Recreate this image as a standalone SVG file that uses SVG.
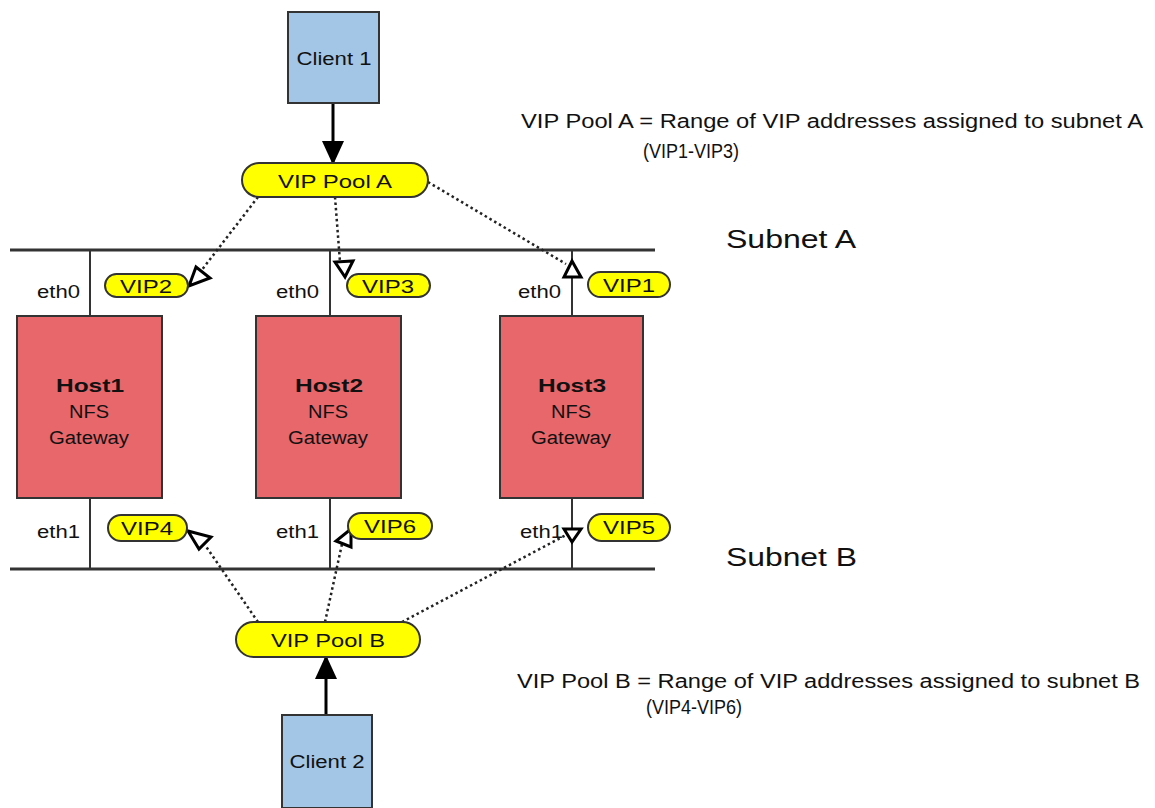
<svg xmlns="http://www.w3.org/2000/svg" width="1155" height="808" viewBox="0 0 1155 808">
<defs>
<marker id="solidArrow" markerWidth="24" markerHeight="22" refX="22" refY="11" orient="auto" markerUnits="userSpaceOnUse" viewBox="0 0 24 22">
<path d="M0,0 L24,11 L0,22 Z" fill="#000"/>
</marker>
<style>
text{font-family:"Liberation Sans",Arial,sans-serif;fill:#111;}
.client{fill:#a3c6e6;stroke:#333;stroke-width:2;}
.host{fill:#e8676b;stroke:#333;stroke-width:2;}
.pill{fill:#ffff00;stroke:#333;stroke-width:2;}
.bus{stroke:#333;stroke-width:3;fill:none;}
.drop{stroke:#333;stroke-width:2;fill:none;}
.dot{stroke:#222;stroke-width:2.5;stroke-dasharray:2.5 3;fill:none;}
.hollow{fill:#fff;stroke:#000;stroke-width:3;stroke-linejoin:miter;}
.solid{stroke:#000;stroke-width:3;fill:none;}
.lbl{font-size:18px;text-anchor:middle;}
.vip{font-size:19px;text-anchor:middle;}
.eth{font-size:18px;text-anchor:end;}
.subnet{font-size:26px;}
.desc{font-size:20px;}
</style>
</defs>
<rect width="1155" height="808" fill="#fff"/>

<g id="buses">
<line class="bus" x1="10" y1="250" x2="655" y2="250"/>
<line class="bus" x1="10" y1="569" x2="655" y2="569"/>
<line class="drop" x1="90" y1="250" x2="90" y2="316"/>
<line class="drop" x1="330" y1="250" x2="330" y2="316"/>
<line class="drop" x1="572" y1="250" x2="572" y2="316"/>
<line class="drop" x1="90" y1="498" x2="90" y2="569"/>
<line class="drop" x1="330" y1="498" x2="330" y2="569"/>
<line class="drop" x1="572" y1="498" x2="572" y2="569"/>
</g>

<g id="connectors">
<line class="solid" x1="333" y1="103" x2="333" y2="163" marker-end="url(#solidArrow)"/>
<line class="solid" x1="326" y1="715" x2="326" y2="657" marker-end="url(#solidArrow)"/>
<line class="dot" x1="258" y1="197" x2="201" y2="271"/>
<line class="dot" x1="335" y1="197" x2="340" y2="262"/>
<line class="dot" x1="428" y1="182" x2="566" y2="264"/>
<line class="dot" x1="258" y1="622" x2="205" y2="545"/>
<line class="dot" x1="325" y1="622" x2="342" y2="544"/>
<line class="dot" x1="402" y1="622" x2="566" y2="535"/>
<polygon class="hollow" points="189,286 196,267 210,278"/>
<polygon class="hollow" points="345,277 335,262 353,261"/>
<polygon class="hollow" points="572,261 564,277 581,277"/>
<polygon class="hollow" points="188,531 211,537 199,549"/>
<polygon class="hollow" points="351,529 336,541 351,547"/>
<polygon class="hollow" points="572,542 564,529 581,529"/>
</g>

<g id="client1">
<rect class="client" x="288" y="12" width="91" height="91"/>
<text class="lbl" x="334" y="65" textLength="75" lengthAdjust="spacingAndGlyphs">Client 1</text>
</g>

<g id="client2">
<rect class="client" x="282" y="715" width="90" height="93"/>
<text class="lbl" x="327" y="768" textLength="75" lengthAdjust="spacingAndGlyphs">Client 2</text>
</g>

<g id="poolA">
<rect class="pill" x="242" y="163" width="186" height="34" rx="17"/>
<text class="vip" x="335" y="188" textLength="114" lengthAdjust="spacingAndGlyphs">VIP Pool A</text>
</g>

<g id="poolB">
<rect class="pill" x="236" y="622" width="184" height="35" rx="17.5"/>
<text class="vip" x="328" y="647" textLength="114" lengthAdjust="spacingAndGlyphs">VIP Pool B</text>
</g>

<g id="host1">
<rect class="host" x="17" y="316" width="145" height="182"/>
<text class="lbl" x="90" y="392" font-weight="bold" font-size="20" textLength="68" lengthAdjust="spacingAndGlyphs">Host1</text>
<text class="lbl" x="89" y="418" textLength="40" lengthAdjust="spacingAndGlyphs">NFS</text>
<text class="lbl" x="89" y="444" textLength="80" lengthAdjust="spacingAndGlyphs">Gateway</text>
</g>
<g id="host2">
<rect class="host" x="256" y="316" width="145" height="182"/>
<text class="lbl" x="329" y="392" font-weight="bold" font-size="20" textLength="68" lengthAdjust="spacingAndGlyphs">Host2</text>
<text class="lbl" x="328" y="418" textLength="40" lengthAdjust="spacingAndGlyphs">NFS</text>
<text class="lbl" x="328" y="444" textLength="80" lengthAdjust="spacingAndGlyphs">Gateway</text>
</g>
<g id="host3">
<rect class="host" x="500" y="316" width="143" height="182"/>
<text class="lbl" x="572" y="392" font-weight="bold" font-size="20" textLength="68" lengthAdjust="spacingAndGlyphs">Host3</text>
<text class="lbl" x="571" y="418" textLength="40" lengthAdjust="spacingAndGlyphs">NFS</text>
<text class="lbl" x="571" y="444" textLength="80" lengthAdjust="spacingAndGlyphs">Gateway</text>
</g>

<g id="eth-labels">
<text class="eth" x="80" y="298" textLength="43" lengthAdjust="spacingAndGlyphs">eth0</text>
<text class="eth" x="319" y="298" textLength="43" lengthAdjust="spacingAndGlyphs">eth0</text>
<text class="eth" x="561" y="298" textLength="43" lengthAdjust="spacingAndGlyphs">eth0</text>
<text class="eth" x="80" y="538" textLength="43" lengthAdjust="spacingAndGlyphs">eth1</text>
<text class="eth" x="319" y="538" textLength="43" lengthAdjust="spacingAndGlyphs">eth1</text>
<text class="eth" x="563" y="538" textLength="43" lengthAdjust="spacingAndGlyphs">eth1</text>
</g>

<g id="vip2"><rect class="pill" x="105" y="274" width="83" height="23" rx="11.5"/><text class="vip" x="146" y="293" textLength="52" lengthAdjust="spacingAndGlyphs">VIP2</text></g>
<g id="vip3"><rect class="pill" x="347" y="274" width="83" height="23" rx="11.5"/><text class="vip" x="388" y="293" textLength="52" lengthAdjust="spacingAndGlyphs">VIP3</text></g>
<g id="vip1"><rect class="pill" x="588" y="272" width="82" height="25" rx="12.5"/><text class="vip" x="629" y="292" textLength="52" lengthAdjust="spacingAndGlyphs">VIP1</text></g>
<g id="vip4"><rect class="pill" x="108" y="515" width="79" height="26" rx="13"/><text class="vip" x="147" y="535" textLength="52" lengthAdjust="spacingAndGlyphs">VIP4</text></g>
<g id="vip6"><rect class="pill" x="348" y="513" width="84" height="26" rx="13"/><text class="vip" x="390" y="533" textLength="52" lengthAdjust="spacingAndGlyphs">VIP6</text></g>
<g id="vip5"><rect class="pill" x="588" y="514" width="82" height="27" rx="13.5"/><text class="vip" x="629" y="534" textLength="52" lengthAdjust="spacingAndGlyphs">VIP5</text></g>

<g id="subnetA"><text class="subnet" x="726" y="248" textLength="130" lengthAdjust="spacingAndGlyphs">Subnet A</text></g>
<g id="subnetB"><text class="subnet" x="726" y="566" textLength="131" lengthAdjust="spacingAndGlyphs">Subnet B</text></g>

<g id="descA">
<text class="desc" x="521" y="128" textLength="622" lengthAdjust="spacingAndGlyphs">VIP Pool A = Range of VIP addresses assigned to subnet A</text>
<text class="desc" x="643" y="158" textLength="96" lengthAdjust="spacingAndGlyphs" font-size="21">(VIP1-VIP3)</text>
</g>
<g id="descB">
<text class="desc" x="517" y="688" textLength="623" lengthAdjust="spacingAndGlyphs">VIP Pool B = Range of VIP addresses assigned to subnet B</text>
<text class="desc" x="646" y="714" textLength="96" lengthAdjust="spacingAndGlyphs" font-size="21">(VIP4-VIP6)</text>
</g>
</svg>
